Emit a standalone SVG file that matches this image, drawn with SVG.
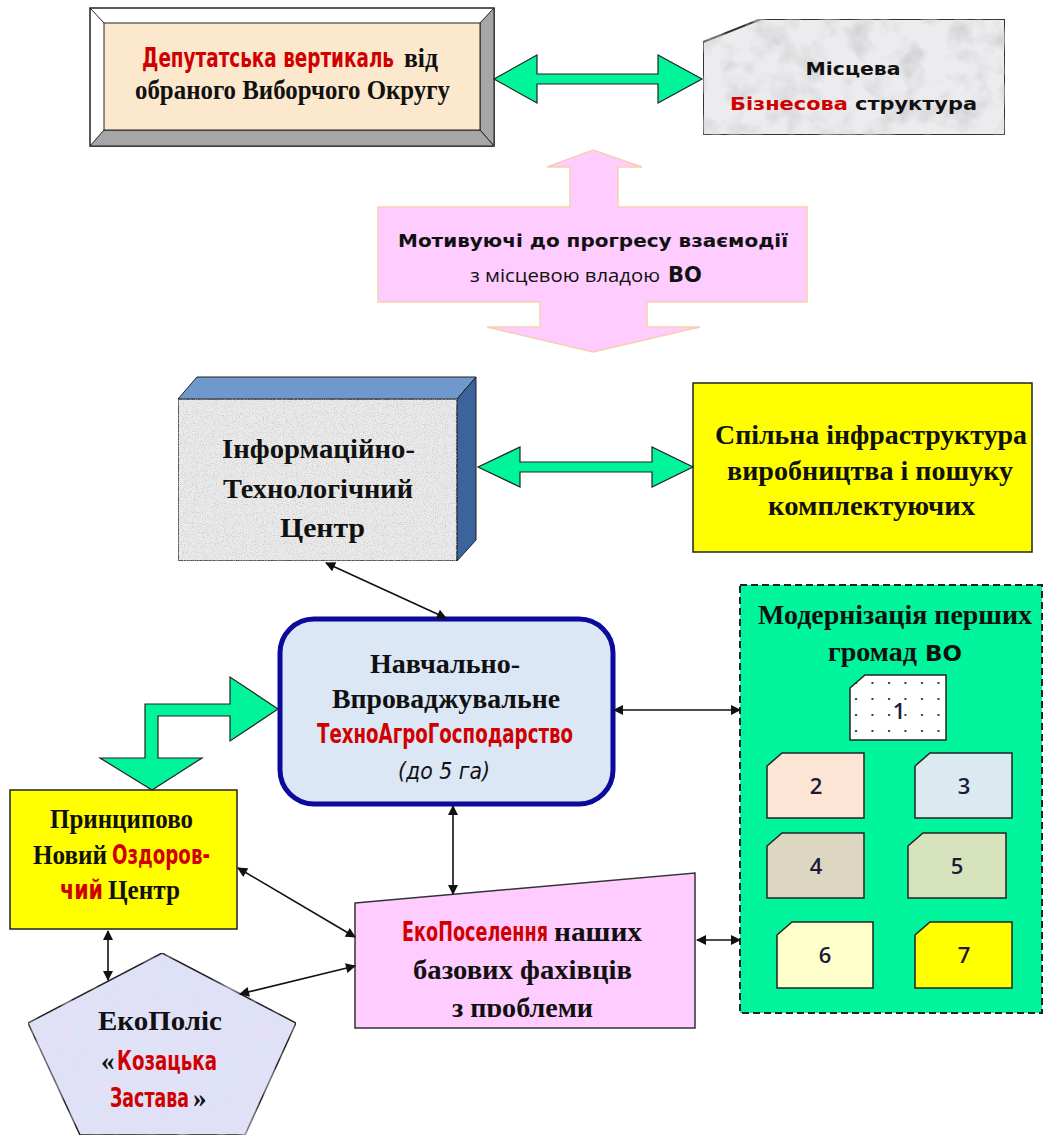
<svg xmlns="http://www.w3.org/2000/svg" width="1044" height="1137" viewBox="0 0 1044 1137">
<style>
.serif{font-family:"Liberation Serif","Times New Roman",serif;font-weight:bold;fill:#111;font-size:27px;}
.narrow{font-family:"Liberation Sans Narrow","DejaVu Sans Condensed","Liberation Sans",sans-serif;font-weight:bold;fill:#d10000;font-size:27px;}
.tall{font-family:"Liberation Sans Narrow","DejaVu Sans Condensed","Liberation Sans",sans-serif;font-weight:bold;fill:#d10000;font-size:19px;}
.sansb{font-family:"DejaVu Sans","Liberation Sans",sans-serif;font-weight:bold;fill:#111;}
.num{font-family:"Open Sans","Liberation Sans",sans-serif;font-size:22px;font-weight:600;fill:#1a1a3a;text-anchor:middle;}
.fat{fill:#00f59a;stroke:#222;stroke-width:1.2;stroke-linejoin:miter;}
.conn{fill:none;stroke:#111;stroke-width:1.6;marker-start:url(#ah);marker-end:url(#ah);}
.small{stroke:#222;stroke-width:1.5;}
</style>
<defs>
<marker id="ah" viewBox="0 0 10 10" refX="9" refY="5" markerWidth="12" markerHeight="10" markerUnits="userSpaceOnUse" orient="auto-start-reverse">
<path d="M0,0 L10,5 L0,10 z" fill="#111"/>
</marker>
<pattern id="dots" width="16.5" height="16" patternUnits="userSpaceOnUse" x="852" y="679">
<rect width="16.5" height="16" fill="#ffffff"/>
<circle cx="4" cy="4" r="1.1" fill="#111"/>
</pattern>
<filter id="marble" x="0" y="0" width="100%" height="100%">
<feTurbulence type="fractalNoise" baseFrequency="0.04" numOctaves="3" seed="3"/>
<feColorMatrix type="matrix" values="0 0 0 0 0.55  0 0 0 0 0.55  0 0 0 0 0.57  0 0 0 -1.6 0.9"/>
<feComposite in2="SourceGraphic" operator="in"/>
<feMerge><feMergeNode in="SourceGraphic"/><feMergeNode/></feMerge>
</filter>
<filter id="tint" x="0" y="0" width="100%" height="100%">
<feTurbulence type="fractalNoise" baseFrequency="0.05" numOctaves="2" seed="11"/>
<feColorMatrix type="matrix" values="0 0 0 0 0.85  0 0 0 0 0.75  0 0 0 0 0.95  0 0 0 -1.2 0.6"/>
<feComposite in2="SourceGraphic" operator="in"/>
<feMerge><feMergeNode in="SourceGraphic"/><feMergeNode/></feMerge>
</filter>
<filter id="granite" x="0" y="0" width="100%" height="100%">
<feTurbulence type="fractalNoise" baseFrequency="0.9" numOctaves="2" seed="7"/>
<feColorMatrix type="matrix" values="0 0 0 0 0.55  0 0 0 0 0.55  0 0 0 0 0.55  0 0 0 -2.2 1.2"/>
<feComposite in2="SourceGraphic" operator="in"/>
<feMerge><feMergeNode in="SourceGraphic"/><feMergeNode/></feMerge>
</filter>
<clipPath id="ecoClip"><rect x="355" y="860" width="345" height="157"/></clipPath>
</defs>

<g id="node-deputat">
<rect x="90" y="8" width="404" height="138" fill="#ffffff" stroke="#222" stroke-width="1.5"/>
<polygon points="494,8 494,146 480,130 480,23" fill="#a6a6a6" stroke="#222" stroke-width="1"/>
<polygon points="90,146 494,146 480,130 104,130" fill="#a6a6a6" stroke="#222" stroke-width="1"/>
<line x1="90" y1="8" x2="104" y2="23" stroke="#222"/>
<rect x="104" y="23" width="376" height="107" fill="#fbe8cd" stroke="#222" stroke-width="1"/>
<text class="tall" transform="translate(142,67) scale(1,1.42)" x="0" y="0" textLength="252" lengthAdjust="spacingAndGlyphs">Депутатська вертикаль</text>
<text class="serif" x="404" y="67" textLength="34" lengthAdjust="spacingAndGlyphs">від</text>
<text class="serif" x="135" y="99" textLength="315" lengthAdjust="spacingAndGlyphs">обраного Виборчого Округу</text>
</g>

<g id="node-business">
<polygon points="703,42 761,19 1005,19 1005,135 703,135" fill="#ececee" stroke="#333" stroke-width="2" filter="url(#marble)"/>
<text class="sansb" x="853" y="75" font-size="18" text-anchor="middle" textLength="95" lengthAdjust="spacingAndGlyphs">Місцева</text>
<text class="sansb" x="730" y="110" font-size="18" textLength="247" lengthAdjust="spacingAndGlyphs"><tspan fill="#d10000">Бізнесова</tspan> структура</text>
</g>

<g id="node-motiv">
<polygon points="593,150 642,167 618,167 618,207 807,207 807,302 647,302 647,327 700,327 593,352 487,327 540,327 540,302 378,302 378,207 570,207 570,167 547,167" fill="#ffccff" stroke="#f5cfb0" stroke-width="1.5"/>
<text class="sansb" x="593" y="247" font-size="17" text-anchor="middle" textLength="390" lengthAdjust="spacingAndGlyphs">Мотивуючі до прогресу взаємодії</text>
<text x="470" y="282" font-family="'Open Sans','Liberation Sans',sans-serif" font-size="18" fill="#111" textLength="190" lengthAdjust="spacingAndGlyphs">з місцевою владою</text>
<text class="sansb" x="668" y="282" font-size="21">ВО</text>
</g>

<g id="node-itc">
<polygon points="178,399 197,377 476,377 457,399" fill="#6f98cc" stroke="#222" stroke-width="1"/>
<polygon points="457,399 476,377 476,540 457,561" fill="#3b639c" stroke="#222" stroke-width="1"/>
<rect x="178" y="399" width="279" height="162" fill="#ebebeb" stroke="#222" stroke-width="1.5" filter="url(#granite)"/>
<text class="serif" x="222" y="458" textLength="193" lengthAdjust="spacingAndGlyphs">Інформаційно-</text>
<text class="serif" x="223" y="498" textLength="190" lengthAdjust="spacingAndGlyphs">Технологічний</text>
<text class="serif" x="280" y="537" textLength="85" lengthAdjust="spacingAndGlyphs">Центр</text>
</g>

<g id="node-infra">
<rect x="693" y="383" width="339" height="169" fill="#ffff00" stroke="#222" stroke-width="1.5"/>
<text class="serif" x="715" y="444" textLength="312" lengthAdjust="spacingAndGlyphs">Спільна інфраструктура</text>
<text class="serif" x="727" y="480" textLength="286" lengthAdjust="spacingAndGlyphs">виробництва і пошуку</text>
<text class="serif" x="768" y="515" textLength="207" lengthAdjust="spacingAndGlyphs">комплектуючих</text>
</g>

<g id="node-navch">
<rect x="280" y="619" width="333" height="185" rx="34" ry="34" fill="#dbe7f5" stroke="#0a0a9c" stroke-width="5"/>
<text class="serif" x="370" y="673" textLength="150" lengthAdjust="spacingAndGlyphs">Навчально-</text>
<text class="serif" x="332" y="708" textLength="228" lengthAdjust="spacingAndGlyphs">Впроваджувальне</text>
<text class="narrow" x="317" y="743" textLength="256" lengthAdjust="spacingAndGlyphs">ТехноАгроГосподарство</text>
<text x="398" y="779" font-family="'Liberation Sans Narrow','DejaVu Sans Condensed','Liberation Sans',sans-serif" font-size="23" font-style="italic" fill="#111" textLength="92" lengthAdjust="spacingAndGlyphs">(до 5 га)</text>
</g>

<g id="node-modern">
<rect x="740" y="585" width="302" height="428" fill="#00f59c" stroke="#222" stroke-width="2" stroke-dasharray="7,4"/>
<text class="serif" x="758" y="624" textLength="274" lengthAdjust="spacingAndGlyphs">Модернізація перших</text>
<text class="serif" x="828" y="661" textLength="89" lengthAdjust="spacingAndGlyphs">громад</text>
<text class="sansb" x="925" y="661" font-size="21" textLength="37" lengthAdjust="spacingAndGlyphs">ВО</text>
<polygon points="850,688 865,675 946,675 946,740 850,740" fill="url(#dots)" stroke="#222" stroke-width="1.5"/>
<text class="num" x="899" y="719">1</text>
<polygon points="767,766 782,753 864,753 864,818 767,818" fill="#fde5d6" class="small"/>
<text class="num" x="816" y="794">2</text>
<polygon points="915,766 930,753 1012,753 1012,818 915,818" fill="#daeaf0" class="small"/>
<text class="num" x="964" y="794">3</text>
<polygon points="767,846 782,833 864,833 864,898 767,898" fill="#ddd7c1" class="small"/>
<text class="num" x="816" y="874">4</text>
<polygon points="908,846 923,833 1006,833 1006,898 908,898" fill="#d7e3bd" class="small"/>
<text class="num" x="957" y="874">5</text>
<polygon points="777,935 792,922 873,922 873,988 777,988" fill="#ffffcc" class="small"/>
<text class="num" x="825" y="963">6</text>
<polygon points="915,935 930,922 1012,922 1012,988 915,988" fill="#ffff00" class="small"/>
<text class="num" x="964" y="963">7</text>
</g>

<g id="node-health">
<rect x="10" y="790" width="227" height="139" fill="#ffff00" stroke="#222" stroke-width="1.5"/>
<text class="serif" x="50" y="828" textLength="143" lengthAdjust="spacingAndGlyphs">Принципово</text>
<text class="serif" x="33" y="864" textLength="74" lengthAdjust="spacingAndGlyphs">Новий</text>
<text class="narrow" x="112" y="864" textLength="98" lengthAdjust="spacingAndGlyphs">Оздоров-</text>
<text class="narrow" x="60" y="899" textLength="43" lengthAdjust="spacingAndGlyphs">чий</text>
<text class="serif" x="108" y="899" textLength="72" lengthAdjust="spacingAndGlyphs">Центр</text>
</g>

<g id="node-eco">
<polygon points="355,903 695,873 695,1028 355,1028" fill="#ffccff" stroke="#333" stroke-width="1.5"/>
<g clip-path="url(#ecoClip)">
<text class="tall" transform="translate(402,941) scale(1,1.42)" x="0" y="0" textLength="146" lengthAdjust="spacingAndGlyphs">ЕкоПоселення</text>
<text class="serif" x="554" y="941" textLength="88" lengthAdjust="spacingAndGlyphs">наших</text>
<text class="serif" x="413" y="979" textLength="219" lengthAdjust="spacingAndGlyphs">базових фахівців</text>
<text class="serif" x="452" y="1017" textLength="141" lengthAdjust="spacingAndGlyphs">з проблеми</text>
</g>
</g>

<g id="node-ecopolis">
<polygon points="162,953 296,1023 245,1135 80,1135 28,1023" fill="#dfe1f7" stroke="#222" stroke-width="1.5" filter="url(#tint)"/>
<text class="serif" x="98" y="1030" textLength="124" lengthAdjust="spacingAndGlyphs">ЕкоПоліс</text>
<text class="serif" x="101" y="1070">«</text>
<text class="narrow" x="117" y="1070" textLength="100" lengthAdjust="spacingAndGlyphs">Козацька</text>
<text class="tall" transform="translate(110,1107) scale(1,1.42)" x="0" y="0" textLength="79" lengthAdjust="spacingAndGlyphs">Застава</text>
<text class="serif" x="193" y="1107">»</text>
</g>

<g id="connectors">
<polygon class="fat" points="494,79 537,55 537,74 658,74 658,55 702,79 658,103 658,84 537,84 537,103"/>
<polygon class="fat" points="478,467 520,447 520,462 652,462 652,447 693,467 652,487 652,472 520,472 520,487"/>
<polygon class="fat" points="278,709 230,741 230,716 158,716 158,758 202,758 152,790 100,758 145,758 145,704 230,704 230,677"/>
<line class="conn" x1="326" y1="563" x2="446" y2="618"/>
<line class="conn" x1="614" y1="710" x2="740" y2="710"/>
<line class="conn" x1="453" y1="806" x2="453" y2="894"/>
<line class="conn" x1="238" y1="868" x2="355" y2="937"/>
<line class="conn" x1="108" y1="931" x2="108" y2="980"/>
<line class="conn" x1="355" y1="966" x2="240" y2="994"/>
<line class="conn" x1="697" y1="940" x2="740" y2="940"/>
</g>
</svg>
